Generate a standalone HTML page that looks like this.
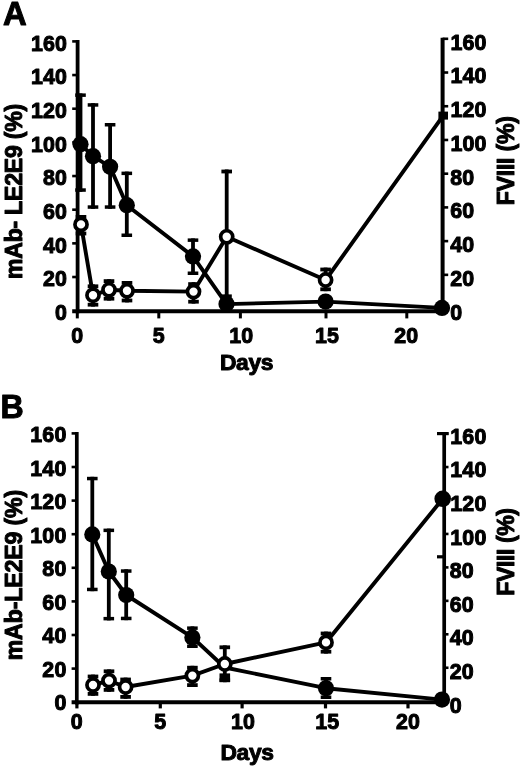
<!DOCTYPE html>
<html lang="en"><head><meta charset="utf-8"><title>Figure</title>
<style>
html,body{margin:0;padding:0;background:#fff;}
body{width:520px;height:768px;overflow:hidden;}
svg{display:block;}
text{font-family:'Liberation Sans', Arial, Helvetica, sans-serif;font-weight:bold;fill:#000;stroke:#000;stroke-linejoin:round;}
</style></head><body>
<svg width="520" height="768" viewBox="0 0 520 768">
<rect width="520" height="768" fill="#fff"/>
<g stroke="#000" fill="none">
<line x1="77.6" y1="39.9" x2="77.6" y2="313.2" stroke-width="3.8"/>
<line x1="72.2" y1="311.2" x2="444.5" y2="311.2" stroke-width="4.0"/>
<line x1="442.6" y1="37.7" x2="442.6" y2="313.2" stroke-width="4.0"/>
<line x1="72.2" y1="41.4" x2="77.6" y2="41.4" stroke-width="2.6"/>
<line x1="442.6" y1="38.8" x2="448.2" y2="38.8" stroke-width="2.6"/>
<line x1="72.2" y1="75.06" x2="77.6" y2="75.06" stroke-width="2.6"/>
<line x1="442.6" y1="72.52" x2="448.2" y2="72.52" stroke-width="2.6"/>
<line x1="72.2" y1="108.72" x2="77.6" y2="108.72" stroke-width="2.6"/>
<line x1="442.6" y1="106.24" x2="448.2" y2="106.24" stroke-width="2.6"/>
<line x1="72.2" y1="142.38" x2="77.6" y2="142.38" stroke-width="2.6"/>
<line x1="442.6" y1="139.96" x2="448.2" y2="139.96" stroke-width="2.6"/>
<line x1="72.2" y1="176.04" x2="77.6" y2="176.04" stroke-width="2.6"/>
<line x1="442.6" y1="173.68" x2="448.2" y2="173.68" stroke-width="2.6"/>
<line x1="72.2" y1="209.7" x2="77.6" y2="209.7" stroke-width="2.6"/>
<line x1="442.6" y1="207.4" x2="448.2" y2="207.4" stroke-width="2.6"/>
<line x1="72.2" y1="243.36" x2="77.6" y2="243.36" stroke-width="2.6"/>
<line x1="442.6" y1="241.12" x2="448.2" y2="241.12" stroke-width="2.6"/>
<line x1="72.2" y1="277.02" x2="77.6" y2="277.02" stroke-width="2.6"/>
<line x1="442.6" y1="274.84" x2="448.2" y2="274.84" stroke-width="2.6"/>
<line x1="77.3" y1="311.2" x2="77.3" y2="318.4" stroke-width="3.0"/>
<line x1="158.8" y1="311.2" x2="158.8" y2="318.4" stroke-width="3.0"/>
<line x1="240.4" y1="311.2" x2="240.4" y2="318.4" stroke-width="3.0"/>
<line x1="326" y1="311.2" x2="326" y2="318.4" stroke-width="3.0"/>
<line x1="406.8" y1="311.2" x2="406.8" y2="318.4" stroke-width="3.0"/>
<polyline points="80.5,144.2 93,156.2 110.1,166.8 126.8,205.2 193,256.4 226.5,304.1 325.6,301.6 442,307.9" fill="none" stroke-width="3.9" stroke-linejoin="round"/>
<line x1="80.5" y1="93.4" x2="80.5" y2="191.8" stroke-width="3.8"/><line x1="75.2" y1="95.15" x2="85.8" y2="95.15" stroke-width="3.5"/><line x1="75.2" y1="190.05" x2="85.8" y2="190.05" stroke-width="3.5"/>
<line x1="93" y1="103.2" x2="93" y2="208.8" stroke-width="3.8"/><line x1="87.7" y1="104.95" x2="98.3" y2="104.95" stroke-width="3.5"/><line x1="87.7" y1="207.05" x2="98.3" y2="207.05" stroke-width="3.5"/>
<line x1="110.1" y1="123" x2="110.1" y2="208.8" stroke-width="3.8"/><line x1="104.8" y1="124.75" x2="115.4" y2="124.75" stroke-width="3.5"/><line x1="104.8" y1="207.05" x2="115.4" y2="207.05" stroke-width="3.5"/>
<line x1="126.8" y1="171.6" x2="126.8" y2="237" stroke-width="3.8"/><line x1="121.5" y1="173.35" x2="132.1" y2="173.35" stroke-width="3.5"/><line x1="121.5" y1="235.25" x2="132.1" y2="235.25" stroke-width="3.5"/>
<line x1="193" y1="238.4" x2="193" y2="275" stroke-width="3.8"/><line x1="187.7" y1="240.15" x2="198.3" y2="240.15" stroke-width="3.5"/><line x1="187.7" y1="273.25" x2="198.3" y2="273.25" stroke-width="3.5"/>
<line x1="226.5" y1="294.4" x2="226.5" y2="311" stroke-width="3.8"/><line x1="221.2" y1="296.15" x2="231.8" y2="296.15" stroke-width="3.5"/><line x1="221.2" y1="309.25" x2="231.8" y2="309.25" stroke-width="3.5"/>
<circle cx="80.5" cy="144.2" r="8.1" fill="#000" stroke="none"/>
<circle cx="93" cy="156.2" r="8.1" fill="#000" stroke="none"/>
<circle cx="110.1" cy="166.8" r="8.1" fill="#000" stroke="none"/>
<circle cx="126.8" cy="205.2" r="8.1" fill="#000" stroke="none"/>
<circle cx="193" cy="256.4" r="8.1" fill="#000" stroke="none"/>
<circle cx="226.5" cy="304.1" r="8.1" fill="#000" stroke="none"/>
<circle cx="325.6" cy="301.6" r="8.1" fill="#000" stroke="none"/>
<circle cx="442" cy="307.9" r="8.1" fill="#000" stroke="none"/>
<polyline points="81,224.4 93,295.2 109,289.8 127,290.8 193.5,291.6 226.7,236.8 325.6,280 443.2,115.6" fill="none" stroke-width="3.9" stroke-linejoin="round"/>
<line x1="81" y1="215" x2="81" y2="235.4" stroke-width="3.8"/><line x1="75.7" y1="216.9" x2="86.3" y2="216.9" stroke-width="3.8"/><line x1="75.7" y1="233.5" x2="86.3" y2="233.5" stroke-width="3.8"/>
<line x1="93" y1="284.4" x2="93" y2="306.6" stroke-width="3.8"/><line x1="87.7" y1="286.3" x2="98.3" y2="286.3" stroke-width="3.8"/><line x1="87.7" y1="304.7" x2="98.3" y2="304.7" stroke-width="3.8"/>
<line x1="109" y1="279.2" x2="109" y2="300.6" stroke-width="3.8"/><line x1="103.7" y1="281.1" x2="114.3" y2="281.1" stroke-width="3.8"/><line x1="103.7" y1="298.7" x2="114.3" y2="298.7" stroke-width="3.8"/>
<line x1="127" y1="281" x2="127" y2="302.4" stroke-width="3.8"/><line x1="121.7" y1="282.9" x2="132.3" y2="282.9" stroke-width="3.8"/><line x1="121.7" y1="300.5" x2="132.3" y2="300.5" stroke-width="3.8"/>
<line x1="193.5" y1="282.2" x2="193.5" y2="303.6" stroke-width="3.8"/><line x1="188.2" y1="284.1" x2="198.8" y2="284.1" stroke-width="3.8"/><line x1="188.2" y1="301.7" x2="198.8" y2="301.7" stroke-width="3.8"/>
<line x1="226.7" y1="169.6" x2="226.7" y2="302" stroke-width="3.8"/><line x1="221.4" y1="171.5" x2="232" y2="171.5" stroke-width="3.8"/><line x1="221.4" y1="300.1" x2="232" y2="300.1" stroke-width="3.8"/>
<line x1="325.6" y1="267.6" x2="325.6" y2="291.2" stroke-width="3.8"/><line x1="320.3" y1="269.5" x2="330.9" y2="269.5" stroke-width="3.8"/><line x1="320.3" y1="289.3" x2="330.9" y2="289.3" stroke-width="3.8"/>
<circle cx="81" cy="224.4" r="6.05" fill="#fff" stroke-width="3.7"/>
<circle cx="93" cy="295.2" r="6.05" fill="#fff" stroke-width="3.7"/>
<circle cx="109" cy="289.8" r="6.05" fill="#fff" stroke-width="3.7"/>
<circle cx="127" cy="290.8" r="6.05" fill="#fff" stroke-width="3.7"/>
<circle cx="193.5" cy="291.6" r="6.05" fill="#fff" stroke-width="3.7"/>
<circle cx="226.7" cy="236.8" r="6.05" fill="#fff" stroke-width="3.7"/>
<circle cx="325.6" cy="280" r="6.05" fill="#fff" stroke-width="3.7"/>
<rect x="438.4" y="111.6" width="9.6" height="8" fill="#000" stroke="none"/>
<line x1="76.8" y1="431.9" x2="76.8" y2="704.6" stroke-width="3.7"/>
<line x1="71.6" y1="702.2" x2="446" y2="702.2" stroke-width="4.0"/>
<line x1="444.2" y1="432.2" x2="444.2" y2="704.6" stroke-width="3.7"/>
<line x1="71.6" y1="433.4" x2="76.8" y2="433.4" stroke-width="2.6"/>
<line x1="444.2" y1="433.6" x2="448.5" y2="433.6" stroke-width="2.6"/>
<line x1="71.6" y1="467" x2="76.8" y2="467" stroke-width="2.6"/>
<line x1="444.2" y1="467.05" x2="448.5" y2="467.05" stroke-width="2.6"/>
<line x1="71.6" y1="500.6" x2="76.8" y2="500.6" stroke-width="2.6"/>
<line x1="444.2" y1="500.5" x2="448.5" y2="500.5" stroke-width="2.6"/>
<line x1="71.6" y1="534.2" x2="76.8" y2="534.2" stroke-width="2.6"/>
<line x1="444.2" y1="533.95" x2="448.5" y2="533.95" stroke-width="2.6"/>
<line x1="71.6" y1="567.8" x2="76.8" y2="567.8" stroke-width="2.6"/>
<line x1="444.2" y1="567.4" x2="448.5" y2="567.4" stroke-width="2.6"/>
<line x1="71.6" y1="601.4" x2="76.8" y2="601.4" stroke-width="2.6"/>
<line x1="444.2" y1="600.85" x2="448.5" y2="600.85" stroke-width="2.6"/>
<line x1="71.6" y1="635" x2="76.8" y2="635" stroke-width="2.6"/>
<line x1="444.2" y1="634.3" x2="448.5" y2="634.3" stroke-width="2.6"/>
<line x1="71.6" y1="668.6" x2="76.8" y2="668.6" stroke-width="2.6"/>
<line x1="444.2" y1="667.75" x2="448.5" y2="667.75" stroke-width="2.6"/>
<line x1="76.9" y1="702.2" x2="76.9" y2="708.4" stroke-width="3.2"/>
<line x1="160.3" y1="702.2" x2="160.3" y2="708.4" stroke-width="3.2"/>
<line x1="242.1" y1="702.2" x2="242.1" y2="708.4" stroke-width="3.2"/>
<line x1="325.5" y1="702.2" x2="325.5" y2="708.4" stroke-width="3.2"/>
<line x1="408" y1="702.2" x2="408" y2="708.4" stroke-width="3.2"/>
<polyline points="92.3,534.4 108.8,571.5 126.2,595 192.4,637.4 224.8,667.5 326,688.2 442,699.6" fill="none" stroke-width="3.9" stroke-linejoin="round"/>
<line x1="92.3" y1="476.8" x2="92.3" y2="591.2" stroke-width="3.8"/><line x1="87" y1="478.55" x2="97.6" y2="478.55" stroke-width="3.5"/><line x1="87" y1="589.45" x2="97.6" y2="589.45" stroke-width="3.5"/>
<line x1="108.8" y1="528.6" x2="108.8" y2="620.4" stroke-width="3.8"/><line x1="103.5" y1="530.35" x2="114.1" y2="530.35" stroke-width="3.5"/><line x1="103.5" y1="618.65" x2="114.1" y2="618.65" stroke-width="3.5"/>
<line x1="126.2" y1="569.3" x2="126.2" y2="620.2" stroke-width="3.8"/><line x1="120.9" y1="571.05" x2="131.5" y2="571.05" stroke-width="3.5"/><line x1="120.9" y1="618.45" x2="131.5" y2="618.45" stroke-width="3.5"/>
<line x1="192.4" y1="626.4" x2="192.4" y2="648" stroke-width="3.8"/><line x1="187.1" y1="628.15" x2="197.7" y2="628.15" stroke-width="3.5"/><line x1="187.1" y1="646.25" x2="197.7" y2="646.25" stroke-width="3.5"/>
<line x1="326" y1="677" x2="326" y2="699" stroke-width="3.8"/><line x1="320.7" y1="678.75" x2="331.3" y2="678.75" stroke-width="3.5"/><line x1="320.7" y1="697.25" x2="331.3" y2="697.25" stroke-width="3.5"/>
<circle cx="92.3" cy="534.4" r="8.1" fill="#000" stroke="none"/>
<circle cx="108.8" cy="571.5" r="8.1" fill="#000" stroke="none"/>
<circle cx="126.2" cy="595" r="8.1" fill="#000" stroke="none"/>
<circle cx="192.4" cy="637.4" r="8.1" fill="#000" stroke="none"/>
<circle cx="326" cy="688.2" r="8.1" fill="#000" stroke="none"/>
<circle cx="442" cy="699.6" r="8.1" fill="#000" stroke="none"/>
<polyline points="93,685 109,680.6 125.6,687 192.4,675.6 224.8,664 326,642.4 442.7,498.8" fill="none" stroke-width="3.9" stroke-linejoin="round"/>
<line x1="93" y1="674.6" x2="93" y2="695.8" stroke-width="3.8"/><line x1="87.7" y1="676.5" x2="98.3" y2="676.5" stroke-width="3.8"/><line x1="87.7" y1="693.9" x2="98.3" y2="693.9" stroke-width="3.8"/>
<line x1="109" y1="669.4" x2="109" y2="691.8" stroke-width="3.8"/><line x1="103.7" y1="671.3" x2="114.3" y2="671.3" stroke-width="3.8"/><line x1="103.7" y1="689.9" x2="114.3" y2="689.9" stroke-width="3.8"/>
<line x1="125.6" y1="677.6" x2="125.6" y2="698.8" stroke-width="3.8"/><line x1="120.3" y1="679.5" x2="130.9" y2="679.5" stroke-width="3.8"/><line x1="120.3" y1="696.9" x2="130.9" y2="696.9" stroke-width="3.8"/>
<line x1="192.4" y1="665.8" x2="192.4" y2="687" stroke-width="3.8"/><line x1="187.1" y1="667.7" x2="197.7" y2="667.7" stroke-width="3.8"/><line x1="187.1" y1="685.1" x2="197.7" y2="685.1" stroke-width="3.8"/>
<line x1="224.8" y1="645.4" x2="224.8" y2="682.2" stroke-width="3.8"/><line x1="219.5" y1="647.3" x2="230.1" y2="647.3" stroke-width="3.8"/><line x1="219.5" y1="680.3" x2="230.1" y2="680.3" stroke-width="3.8"/>
<line x1="326" y1="631.6" x2="326" y2="653.6" stroke-width="3.8"/><line x1="320.7" y1="633.5" x2="331.3" y2="633.5" stroke-width="3.8"/><line x1="320.7" y1="651.7" x2="331.3" y2="651.7" stroke-width="3.8"/>
<circle cx="93" cy="685" r="6.05" fill="#fff" stroke-width="3.7"/>
<circle cx="109" cy="680.6" r="6.05" fill="#fff" stroke-width="3.7"/>
<circle cx="125.6" cy="687" r="6.05" fill="#fff" stroke-width="3.7"/>
<circle cx="192.4" cy="675.6" r="6.05" fill="#fff" stroke-width="3.7"/>
<circle cx="224.8" cy="664" r="6.05" fill="#fff" stroke-width="3.7"/>
<circle cx="326" cy="642.4" r="6.05" fill="#fff" stroke-width="3.7"/>
<circle cx="442.7" cy="498.8" r="8.3" fill="#000" stroke="none"/>
<line x1="437" y1="433.6" x2="448.6" y2="433.6" stroke-width="3.2"/>
<line x1="437" y1="556.8" x2="445.9" y2="556.8" stroke-width="3.2"/>
<line x1="219.5" y1="677.6" x2="230.1" y2="677.6" stroke-width="8.4"/>
</g>
<g>
<text transform="translate(3.00,25.30) scale(0.967,1)" font-size="34" letter-spacing="0.00" stroke-width="1.02">A</text>
<text transform="translate(0.41,417.90) scale(0.945,1)" font-size="34" letter-spacing="0.00" stroke-width="1.03">B</text>
<text transform="translate(30.91,50.70)" font-size="21.4" letter-spacing="0.15" stroke-width="1.00">160</text>
<text transform="translate(30.91,84.35)" font-size="21.4" letter-spacing="0.15" stroke-width="1.00">140</text>
<text transform="translate(30.91,118.00)" font-size="21.4" letter-spacing="0.15" stroke-width="1.00">120</text>
<text transform="translate(30.91,151.65)" font-size="21.4" letter-spacing="0.15" stroke-width="1.00">100</text>
<text transform="translate(42.95,185.30)" font-size="21.4" letter-spacing="0.15" stroke-width="1.00">80</text>
<text transform="translate(42.95,218.95)" font-size="21.4" letter-spacing="0.15" stroke-width="1.00">60</text>
<text transform="translate(42.95,252.60)" font-size="21.4" letter-spacing="0.15" stroke-width="1.00">40</text>
<text transform="translate(42.95,286.25)" font-size="21.4" letter-spacing="0.15" stroke-width="1.00">20</text>
<text transform="translate(55.00,319.90)" font-size="21.4" letter-spacing="0.15" stroke-width="1.00">0</text>
<text transform="translate(450.50,49.50)" font-size="21.4" letter-spacing="0.15" stroke-width="1.00">160</text>
<text transform="translate(450.50,83.25)" font-size="21.4" letter-spacing="0.15" stroke-width="1.00">140</text>
<text transform="translate(450.50,117.00)" font-size="21.4" letter-spacing="0.15" stroke-width="1.00">120</text>
<text transform="translate(450.50,150.75)" font-size="21.4" letter-spacing="0.15" stroke-width="1.00">100</text>
<text transform="translate(450.30,184.50)" font-size="21.4" letter-spacing="0.15" stroke-width="1.00">80</text>
<text transform="translate(450.30,218.25)" font-size="21.4" letter-spacing="0.15" stroke-width="1.00">60</text>
<text transform="translate(450.30,252.00)" font-size="21.4" letter-spacing="0.15" stroke-width="1.00">40</text>
<text transform="translate(450.30,285.75)" font-size="21.4" letter-spacing="0.15" stroke-width="1.00">20</text>
<text transform="translate(450.30,319.50)" font-size="21.4" letter-spacing="0.15" stroke-width="1.00">0</text>
<text transform="translate(71.30,342.60)" font-size="21.4" letter-spacing="0.15" stroke-width="1.00">0</text>
<text transform="translate(152.80,342.60)" font-size="21.4" letter-spacing="0.15" stroke-width="1.00">5</text>
<text transform="translate(229.28,342.60)" font-size="21.4" letter-spacing="0.15" stroke-width="1.00">10</text>
<text transform="translate(314.98,342.60)" font-size="21.4" letter-spacing="0.15" stroke-width="1.00">15</text>
<text transform="translate(394.18,342.60)" font-size="21.4" letter-spacing="0.15" stroke-width="1.00">20</text>
<text transform="translate(220.00,370.40)" font-size="22.8" letter-spacing="-0.37" stroke-width="1.00">Days</text>
<text transform="translate(21.70,279.10) rotate(-90)" font-size="23.1" letter-spacing="-0.24" stroke-width="1.00">mAb- LE2E9 (%)</text>
<text transform="translate(513.60,205.30) rotate(-90)" font-size="23.1" letter-spacing="-0.24" stroke-width="1.00">FVIII (%)</text>
<text transform="translate(30.31,442.10)" font-size="21.4" letter-spacing="0.15" stroke-width="1.00">160</text>
<text transform="translate(30.31,475.60)" font-size="21.4" letter-spacing="0.15" stroke-width="1.00">140</text>
<text transform="translate(30.31,509.10)" font-size="21.4" letter-spacing="0.15" stroke-width="1.00">120</text>
<text transform="translate(30.31,542.60)" font-size="21.4" letter-spacing="0.15" stroke-width="1.00">100</text>
<text transform="translate(42.35,576.10)" font-size="21.4" letter-spacing="0.15" stroke-width="1.00">80</text>
<text transform="translate(42.35,609.60)" font-size="21.4" letter-spacing="0.15" stroke-width="1.00">60</text>
<text transform="translate(42.35,643.10)" font-size="21.4" letter-spacing="0.15" stroke-width="1.00">40</text>
<text transform="translate(42.35,676.60)" font-size="21.4" letter-spacing="0.15" stroke-width="1.00">20</text>
<text transform="translate(54.40,710.10)" font-size="21.4" letter-spacing="0.15" stroke-width="1.00">0</text>
<text transform="translate(450.30,443.70)" font-size="21.4" letter-spacing="0.15" stroke-width="1.00">160</text>
<text transform="translate(450.30,477.30)" font-size="21.4" letter-spacing="0.15" stroke-width="1.00">140</text>
<text transform="translate(450.30,510.90)" font-size="21.4" letter-spacing="0.15" stroke-width="1.00">120</text>
<text transform="translate(450.30,544.50)" font-size="21.4" letter-spacing="0.15" stroke-width="1.00">100</text>
<text transform="translate(449.80,578.10)" font-size="21.4" letter-spacing="0.15" stroke-width="1.00">80</text>
<text transform="translate(449.80,611.70)" font-size="21.4" letter-spacing="0.15" stroke-width="1.00">60</text>
<text transform="translate(449.80,645.30)" font-size="21.4" letter-spacing="0.15" stroke-width="1.00">40</text>
<text transform="translate(449.80,678.90)" font-size="21.4" letter-spacing="0.15" stroke-width="1.00">20</text>
<text transform="translate(449.80,712.50)" font-size="21.4" letter-spacing="0.15" stroke-width="1.00">0</text>
<text transform="translate(70.80,729.10)" font-size="21.4" letter-spacing="0.15" stroke-width="1.00">0</text>
<text transform="translate(154.20,729.10)" font-size="21.4" letter-spacing="0.15" stroke-width="1.00">5</text>
<text transform="translate(230.88,729.10)" font-size="21.4" letter-spacing="0.15" stroke-width="1.00">10</text>
<text transform="translate(315.18,729.10)" font-size="21.4" letter-spacing="0.15" stroke-width="1.00">15</text>
<text transform="translate(395.88,729.10)" font-size="21.4" letter-spacing="0.15" stroke-width="1.00">20</text>
<text transform="translate(220.50,760.40)" font-size="22.8" letter-spacing="-0.34" stroke-width="1.00">Days</text>
<text transform="translate(21.70,660.30) rotate(-90)" font-size="23.1" letter-spacing="-0.12" stroke-width="1.00">mAb-LE2E9 (%)</text>
<text transform="translate(513.80,595.80) rotate(-90)" font-size="23.1" letter-spacing="-0.41" stroke-width="1.00">FVIII (%)</text>
</g>
</svg>
</body></html>
